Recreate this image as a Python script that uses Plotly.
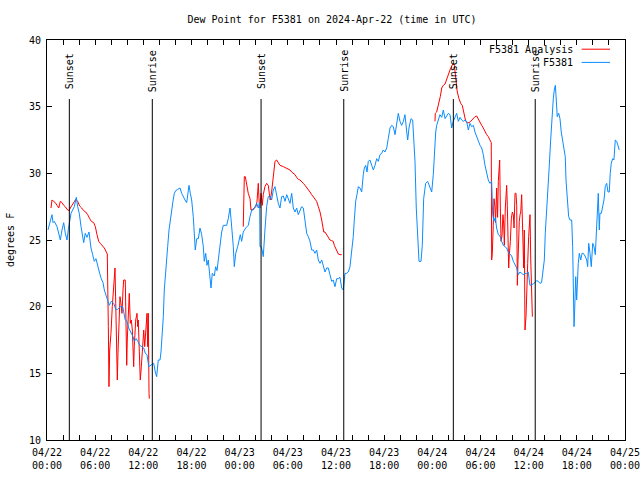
import pandas as pd
import plotly.graph_objects as go

BASE = pd.Timestamp("2024-04-22 00:00")
TITLE = "Dew Point for F5381 on 2024-Apr-22 (time in UTC)"

# F5381 observations: hours since 04/22 00:00 UTC, dew point (F)
obs_hours = [0.12, 0.41, 0.62, 0.75, 0.91, 1.25, 1.46, 1.66, 1.87, 2.08, 2.28, 2.49, 2.66, 2.83, 2.99,
             3.40, 3.65, 3.82, 4.02, 4.24, 4.57, 4.77, 4.98, 5.23, 5.48, 5.69, 5.89, 6.10, 6.32, 6.56,
             6.76, 6.98, 7.14, 7.35, 7.56, 7.76, 8.01, 8.31, 8.56, 8.81, 9.13, 9.43, 9.75, 9.97, 10.18,
             10.46, 10.71, 10.87, 11.12, 11.30, 11.55, 11.80, 12.05, 12.24, 12.46, 12.67, 12.95, 13.29,
             13.49, 13.66, 13.86, 14.08, 14.20, 14.36, 14.49, 14.61, 14.79, 14.91, 15.03, 15.20, 15.36,
             15.53, 15.69, 15.86, 16.03, 16.28, 16.57, 16.78, 16.98, 17.19, 17.40, 17.53, 17.69, 17.85,
             18.02, 18.22, 18.35, 18.47, 18.65, 18.85, 19.06, 19.27, 19.47, 19.59, 19.77, 19.93, 20.09,
             20.30, 20.43, 20.59, 20.84, 21.01, 21.18, 21.34, 21.55, 21.76, 21.96, 22.38, 22.58, 22.80,
             22.92, 23.08, 23.21, 23.33, 23.51, 23.75, 23.92, 24.08, 24.25, 24.45, 24.75, 25.07, 25.29,
             25.50, 25.70, 25.91, 26.12, 26.32, 26.49, 26.53, 26.66, 26.82, 26.94, 27.15, 27.36, 27.56,
             27.77, 27.98, 28.19, 28.40, 28.61, 28.81, 29.02, 29.23, 29.44, 29.65, 29.86, 30.06, 30.27,
             30.48, 30.68, 30.89, 31.10, 31.30, 31.52, 31.72, 31.93, 32.14, 32.35, 32.55, 32.76, 32.97,
             33.18, 33.38, 33.59, 33.80, 34.01, 34.22, 34.42, 34.63, 34.84, 35.04, 35.25, 35.46, 35.66,
             35.87, 36.09, 36.29, 36.50, 36.71, 36.91, 37.12, 37.33, 37.53, 37.74, 37.95, 38.15, 38.28,
             38.45, 38.61, 38.78, 38.99, 39.20, 39.40, 39.53, 39.70, 39.86, 40.02, 40.23, 40.45, 40.65,
             40.86, 41.07, 41.27, 41.48, 41.69, 41.89, 42.10, 42.32, 42.51, 42.73, 42.94, 43.14, 43.35,
             43.56, 43.76, 43.97, 44.18, 44.39, 44.59, 44.81, 44.93, 45.09, 45.34, 45.55, 45.72, 45.84,
             46.00, 46.17, 46.34, 46.59, 46.75, 46.92, 47.17, 47.42, 47.71, 47.92, 48.12, 48.24, 48.42,
             48.54, 48.74, 48.95, 49.17, 49.37, 49.58, 49.79, 49.99, 50.20, 50.41, 50.61, 50.82, 51.03,
             51.24, 51.45, 51.66, 51.86, 52.07, 52.28, 52.48, 52.69, 52.90, 53.11, 53.31, 53.52, 53.73,
             53.94, 54.15, 54.35, 54.56, 54.77, 54.97, 55.18, 55.39, 55.52, 55.68, 55.84, 56.01, 56.22,
             56.43, 56.64, 56.84, 57.05, 57.26, 57.46, 57.67, 57.88, 58.09, 58.30, 58.51, 58.71, 58.92,
             59.13, 59.33, 59.54, 59.75, 59.95, 60.16, 60.58, 60.99, 61.20, 61.40, 61.61, 61.74, 61.95,
             62.07, 62.24, 62.40, 62.56, 62.74, 62.90, 63.07, 63.19, 63.32, 63.40, 63.56, 63.74, 63.90,
             64.06, 64.24, 64.40, 64.56, 64.65, 64.81, 64.98, 65.15, 65.36, 65.48, 65.56, 65.65, 65.73,
             65.86, 65.98, 66.06, 66.18, 66.31, 66.48, 66.65, 66.81, 67.02, 67.23, 67.35, 67.48, 67.64,
             67.80, 67.98, 68.14, 68.30, 68.47, 68.60, 68.67, 68.80, 68.88, 69.05, 69.22, 69.38, 69.54,
             69.72, 69.88, 70.04, 70.16, 70.29, 70.46, 70.62, 70.79, 70.96, 71.12, 71.28]
obs_dewpt = [25.75, 26.5, 26.9, 26.3, 26.4, 26.0, 25.4, 25.0, 25.75, 26.3, 25.5, 25.0, 25.8, 26.3, 27.0,
             27.5, 28.2, 27.5, 27.0, 26.0, 24.8, 25.5, 25.2, 25.6, 24.4, 23.9, 23.4, 23.6, 23.0, 22.5,
             22.1, 21.8, 21.25, 20.9, 20.5, 20.1, 20.4, 20.25, 19.8, 19.8, 20.0, 20.0, 19.0, 18.9, 18.4,
             18.1, 17.75, 17.4, 17.6, 17.4, 17.1, 17.0, 16.9, 16.5, 16.4, 15.5, 15.6, 15.75,
             15.1, 14.75, 16.0, 16.0, 16.6, 18.0, 19.25, 21.25, 23.0, 24.0, 24.5, 25.75, 26.6,
             27.25, 27.9, 28.5, 28.7, 28.8, 28.9, 28.5, 28.2, 28.0, 27.8, 28.5, 29.1, 28.5,
             28.0, 26.75, 25.1, 24.25, 25.1, 25.1, 25.9, 25.4, 24.5, 23.4, 24.0, 23.1, 23.5,
             22.0, 21.4, 22.5, 22.3, 23.0, 22.7, 23.5, 24.5, 25.6, 26.1, 26.1, 26.6, 27.4,
             26.6, 25.5, 24.5, 23.0, 24.0, 24.5, 25.0, 25.4, 24.9, 25.6, 25.9, 26.1, 26.75,
             27.25, 27.25, 27.5, 27.75, 27.4, 27.8, 24.5, 24.5, 24.2, 23.75, 25.75, 27.5, 28.25,
             28.3, 28.0, 28.75, 29.0, 28.25, 27.75, 27.4, 28.25, 28.3, 27.9, 28.4, 28.1, 27.75,
             28.5, 27.4, 27.1, 27.4, 26.9, 27.25, 27.5, 27.4, 26.25, 25.5, 25.25, 24.9, 24.25,
             24.25, 24.0, 24.25, 23.5, 23.25, 23.5, 23.0, 22.6, 22.9, 22.9, 22.4, 21.9, 22.0,
             21.5, 22.1, 22.1, 22.2, 21.4, 21.25, 22.5, 22.5, 22.6, 23.0, 24.0, 25.25, 26.5,
             27.9, 28.4, 29.0, 28.9, 28.6, 29.9, 30.4, 30.6, 30.1, 30.9, 31.0, 30.6, 30.25,
             30.6, 31.1, 30.9, 31.4, 31.5, 31.75, 31.6, 31.9, 32.6, 33.4, 33.6, 33.5, 32.9,
             33.9, 34.5, 33.9, 33.6, 33.9, 34.4, 33.1, 32.5, 33.4, 34.1, 34.0, 32.6, 30.9,
             27.4, 25.4, 23.4, 23.4, 24.6, 28.1, 29.25, 29.4, 29.0, 28.6, 29.9, 31.6, 33.1,
             33.6, 34.1, 34.4, 34.2, 34.75, 34.1, 34.3, 34.5, 34.4, 33.4, 33.9, 34.25, 34.5,
             33.9, 34.2, 34.0, 33.9, 34.0, 33.9, 33.25, 33.75, 33.5, 33.6, 33.1, 32.75, 32.4,
             32.1, 31.9, 31.4, 30.6, 29.9, 29.5, 29.25, 29.4, 26.9, 26.4, 26.7, 25.9, 25.4,
             25.3, 24.9, 24.6, 24.5, 24.4, 24.1, 23.9, 23.8, 23.4, 23.2, 22.9, 22.4, 22.6,
             22.5, 22.4, 22.5, 22.5, 22.6, 21.6, 21.7, 21.95, 21.9, 21.75, 21.8, 22.6, 23.5,
             25.5, 27.0, 28.75, 30.5, 32.5, 34.25, 35.6, 36.25, 36.6, 35.9, 34.25, 34.5, 34.1,
             33.1, 32.4, 32.0, 31.25, 29.5, 27.9, 26.75, 26.5, 26.5, 24.5, 20.5, 18.5, 19.75,
             22.25, 20.5, 22.0, 23.25, 24.0, 23.5, 24.0, 24.0, 23.8, 23.5, 23.0, 24.75, 24.0,
             23.0, 24.75, 24.5, 23.9, 26.0, 27.5, 28.5, 25.75, 27.0, 27.0, 27.5, 28.0, 29.0,
             29.25, 28.6, 28.6, 30.0, 30.75, 31.1, 31.0, 32.5, 32.4, 32.1, 31.75]

# F5381 Analysis: hours since 04/22 00:00 UTC, dew point (F); None = no analysis
ana_hours = [0.50, 0.62, 0.83, 1.03, 1.25, 1.46, 1.66, 1.87, 2.08, 2.28, 2.49, 2.74, 2.90, 3.11, 3.33,
             3.58, 3.82, 4.07, 4.32, 4.57, 4.82, 5.07, 5.32, 5.52, 5.82, 6.02, 6.23, 6.44, 6.64, 6.89,
             7.14, 7.39, 7.51, 7.64, 7.72, 7.81, 7.97, 8.13, 8.22, 8.38, 8.47, 8.56, 8.68, 8.76, 8.84,
             8.97, 9.09, 9.22, 9.34, 9.47, 9.55, 9.75, 9.84, 9.93, 10.00, 10.13, 10.25, 10.38, 10.50,
             10.63, 10.80, 10.87, 11.05, 11.21, 11.30, 11.37, 11.50, 11.62, 11.75, 11.87, 12.05, 12.17,
             12.30, 12.37, 12.46, 12.54, 12.62, 12.71, 12.75, 18.0,
             24.45, 24.58, 24.70, 24.87, 25.07, 25.29, 25.41, 25.62, 25.82, 26.03, 26.16, 26.32, 26.45,
             26.53, 26.66, 26.82, 26.94, 27.15, 27.36, 27.56, 27.69, 27.81, 27.98, 28.19, 28.40, 28.61,
             28.81, 29.02, 29.44, 29.86, 30.27, 30.48, 30.89, 31.10, 31.30, 31.52, 31.72, 31.93, 32.14,
             32.35, 32.55, 32.76, 32.97, 33.18, 33.38, 33.59, 33.80, 34.01, 34.22, 34.34, 34.47, 34.63,
             34.84, 35.04, 35.25, 35.46, 35.66, 35.79, 35.96, 36.12, 36.29, 36.50, 36.71, 42.0,
             48.33, 48.37, 48.54, 48.67, 48.83, 48.99, 49.17, 49.37, 49.58, 49.79, 49.99, 50.20, 50.41,
             50.61, 50.74, 50.82, 50.95, 51.11, 51.32, 51.53, 51.73, 51.86, 51.98, 52.16, 52.36, 52.57,
             52.78, 53.03, 53.31, 53.52, 53.73, 53.94, 54.15, 54.35, 54.56, 54.77, 54.97, 55.18, 55.34,
             55.39, 55.47, 55.59, 55.68, 55.80, 55.88, 56.01, 56.13, 56.22, 56.31, 56.39, 56.47, 56.56,
             56.68, 56.80, 56.89, 56.97, 57.09, 57.26, 57.34, 57.43, 57.51, 57.59, 57.72, 57.84, 57.97,
             58.09, 58.18, 58.30, 58.42, 58.51, 58.59, 58.67, 58.76, 58.83, 58.93, 59.01, 59.13, 59.21,
             59.29, 59.38, 59.46, 59.54, 59.67, 59.75, 59.88, 60.00, 60.08, 60.17, 60.26, 60.34, 60.46]
ana_dewpt = [27.4, 28.0, 27.9, 27.8, 27.6, 27.4, 27.9, 27.8, 27.6, 27.5, 27.3, 27.2, 27.4, 27.6, 27.9,
             28.05, 27.9, 27.55, 27.4, 27.2, 27.1, 26.9, 26.6, 26.4, 26.3, 26.0, 25.4, 24.9, 24.75, 24.6,
             24.4, 24.1, 23.95, 18.5, 14.0, 16.75, 18.0, 20.0, 21.0, 22.0, 22.9, 20.25, 17.0, 14.5, 16.5,
             18.75, 20.75, 20.2, 19.5, 21.25, 22.0, 22.0, 19.5, 15.6, 17.5, 20.0, 21.0, 18.75, 19.0,
             18.25, 15.5, 17.0, 19.0, 19.5, 18.5, 19.0, 17.25, 14.5, 15.5, 17.0, 18.25, 17.0,
             18.5, 19.0, 19.5, 17.0, 19.5, 13.5, 13.1, None,
             26.0, 29.75, 29.75, 29.0, 28.5, 28.1, 27.25, 27.3, 27.4, 27.5, 27.9, 29.25, 27.6,
             27.4, 28.5, 27.6, 28.4, 29.0, 29.25, 29.1, 28.5, 28.0, 28.6, 29.9, 30.9, 31.0,
             30.8, 30.6, 30.5, 30.4, 30.25, 30.1, 29.9, 29.7, 29.55, 29.5, 29.4, 29.25, 29.1,
             28.95, 28.8, 28.6, 28.4, 28.25, 28.05, 27.9, 27.5, 27.1, 26.5, 25.9, 25.6, 25.6,
             25.4, 25.25, 25.0, 24.95, 24.9, 24.6, 24.4, 24.1, 23.95, 23.9, 23.9, None,
             33.9, 34.5, 34.6, 34.9, 35.4, 35.75, 36.4, 36.6, 36.7, 37.1, 37.5, 37.75, 38.05,
             38.25, 38.1, 37.6, 37.0, 36.1, 35.6, 35.25, 35.1, 34.75, 34.25, 33.9, 33.8, 33.8,
             33.9, 34.1, 34.25, 34.3, 34.1, 33.9, 33.6, 33.4, 33.1, 32.9, 32.75, 32.5, 32.3,
             23.5, 24.0, 26.1, 28.1, 27.5, 26.3, 28.9, 26.7, 29.4, 30.1, 31.0, 27.4, 24.9,
             25.3, 26.9, 26.2, 24.6, 27.4, 29.1, 27.6, 23.4, 22.9, 23.9, 24.9, 26.6, 27.1,
             26.9, 25.9, 28.5, 28.5, 27.6, 21.6, 23.4, 25.4, 26.4, 26.9, 27.1, 28.4, 26.9,
             24.6, 22.9, 25.75, 18.25, 19.25, 21.5, 23.25, 25.25, 26.0, 26.9, 23.5, 20.5, 19.25]

sun_times = ["2024-04-22 02:47", "2024-04-22 13:07", "2024-04-23 02:40",
             "2024-04-23 12:58", "2024-04-24 02:37", "2024-04-24 12:49"]
sun_labels = ["Sunset", "Sunrise", "Sunset", "Sunrise", "Sunset", "Sunrise"]

tick_hours = list(range(0, 73, 2))
y_ticks = [10, 15, 20, 25, 30, 35, 40]

FONT = "DejaVu Sans Mono, Liberation Mono, monospace"
RED = "#ff0000"
BLUE = "#0a8cff"


def to_time(hours):
    return [BASE + pd.Timedelta(hours=h) for h in hours]


fig = go.Figure()
fig.add_trace(go.Scatter(x=to_time(ana_hours), y=ana_dewpt, mode="lines", name="F5381 Analysis",
                         line=dict(color=RED, width=1), connectgaps=False))
fig.add_trace(go.Scatter(x=to_time(obs_hours), y=obs_dewpt, mode="lines", name="F5381",
                         line=dict(color=BLUE, width=1)))

tick_vals = to_time(tick_hours)
tick_text = [(BASE + pd.Timedelta(hours=h)).strftime("%m/%d<br>%H:%M") if h % 6 == 0 else ""
             for h in tick_hours]

for t, lab in zip(sun_times, sun_labels):
    fig.add_shape(type="line", xref="x", yref="paper", x0=t, x1=t, y0=0, y1=0.8525,
                  line=dict(color="black", width=1))
    fig.add_annotation(x=t, y=0.9225, xref="x", yref="paper", text=lab, textangle=-90,
                       showarrow=False, xanchor="center", yanchor="middle",
                       font=dict(family=FONT, size=10, color="black"))

# legend drawn gnuplot style: text right-aligned, line sample to the right
for name, color, yp in [("F5381 Analysis", RED, 0.977), ("F5381", BLUE, 0.944)]:
    fig.add_annotation(x=0.9135, y=yp, xref="paper", yref="paper", text=name, showarrow=False,
                       xanchor="right", yanchor="middle", font=dict(family=FONT, size=10, color="black"))
    fig.add_shape(type="line", xref="paper", yref="paper", x0=0.925, x1=0.974, y0=yp, y1=yp,
                  line=dict(color=color, width=1))

fig.add_annotation(x=-0.064, y=0.5, xref="paper", yref="paper", text="degrees F", textangle=-90,
                   showarrow=False, xanchor="center", yanchor="middle",
                   font=dict(family=FONT, size=10, color="black"))

fig.update_layout(
    width=640, height=480,
    margin=dict(l=47, r=15, t=40, b=40, autoexpand=False),
    paper_bgcolor="white", plot_bgcolor="white",
    showlegend=False,
    title=dict(text=TITLE, x=332 / 640, xanchor="center", y=1 - 19 / 480, yanchor="middle",
               font=dict(family=FONT, size=10, color="black")),
    font=dict(family=FONT, size=10, color="black"),
)
fig.update_xaxes(range=[BASE, BASE + pd.Timedelta(hours=72)], tickmode="array",
                 tickvals=tick_vals, ticktext=tick_text, ticks="inside", ticklen=5,
                 tickcolor="black", showline=True, linecolor="black", linewidth=1, mirror="ticks",
                 showgrid=False, zeroline=False, ticklabelstandoff=3, automargin=False,
                 ticklabeloverflow="allow")
fig.update_yaxes(range=[10, 40], tickmode="array", tickvals=y_ticks, ticks="inside", ticklen=5,
                 tickcolor="black", showline=True, linecolor="black", linewidth=1, mirror="ticks",
                 showgrid=False, zeroline=False, ticklabelstandoff=3, automargin=False)

fig.write_html("out.html", config={"displayModeBar": False},
               post_script="document.body.style.margin='0';document.body.style.padding='0';")
